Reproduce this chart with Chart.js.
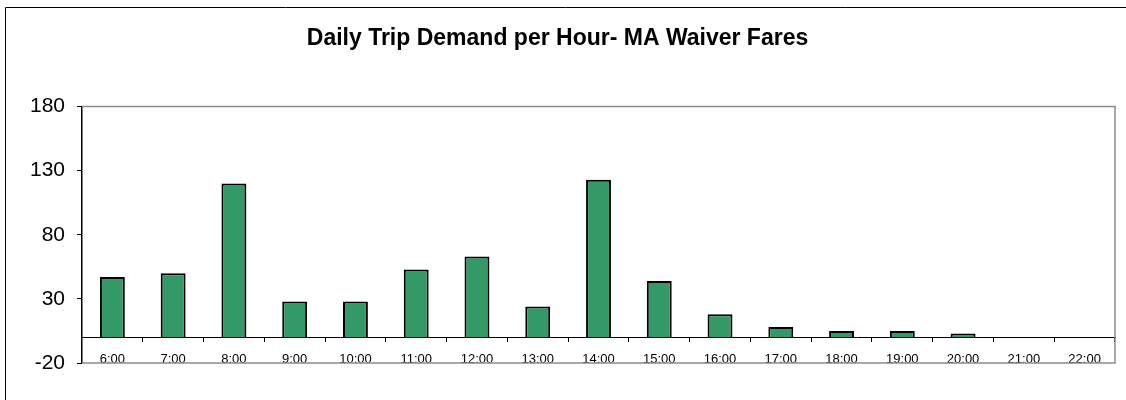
<!DOCTYPE html>
<html>
<head>
<meta charset="utf-8">
<script src="https://cdn.jsdelivr.net/npm/chart.js@4"></script>
<style>
  body { margin: 0; background: #fff; }
  #wrap { width: 1126px; height: 400px; }
</style>
</head>
<body>
<div id="wrap"><canvas id="tripChart" width="1126" height="400"></canvas></div>
<script>
// data
const hours = ['6:00', '7:00', '8:00', '9:00', '10:00', '11:00', '12:00', '13:00', '14:00',
               '15:00', '16:00', '17:00', '18:00', '19:00', '20:00', '21:00', '22:00'];
const trips = [47, 50, 120, 28, 28, 53, 63, 24, 123, 44, 18, 8, 5, 5, 3, 0, 0];
const yTickValues = [-20, 30, 80, 130, 180];
const chartTitle = 'Daily Trip Demand per Hour- MA Waiver Fares';

// gray frame round the plot area plus the outer chart border
const framePlugin = {
    id: 'frames',
    beforeDatasetsDraw(chart) {
        const { ctx, chartArea: a } = chart;
        ctx.save();
        ctx.strokeStyle = '#8c8c8c';
        ctx.lineWidth = 1.5;
        ctx.beginPath();
        ctx.moveTo(a.left, a.top);
        ctx.lineTo(a.right, a.top);
        ctx.lineTo(a.right, a.bottom);
        ctx.lineTo(a.left, a.bottom);
        ctx.stroke();
        ctx.restore();
    },
    afterDraw(chart) {
        const ctx = chart.ctx;
        ctx.save();
        ctx.strokeStyle = '#000';
        ctx.lineWidth = 1;
        ctx.beginPath();
        ctx.moveTo(5.5, chart.height);
        ctx.lineTo(5.5, 7.5);
        ctx.lineTo(chart.width, 7.5);
        ctx.stroke();
        ctx.restore();
    }
};

const ctx = document.getElementById('tripChart').getContext('2d');
const tripChart = new Chart(ctx, {
    type: 'bar',
    data: {
        labels: hours,
        datasets: [{
            label: 'Trips',
            data: trips,
            backgroundColor: '#339966',
            borderColor: '#000',
            borderWidth: 2,
            barPercentage: 0.41,
            categoryPercentage: 1
        }]
    },
    options: {
        responsive: false,
        animation: false,
        layout: { padding: { left: 0, right: 11, top: 0, bottom: 37 } },
        plugins: {
            legend: { display: false },
            tooltip: { enabled: false },
            title: {
                display: true,
                text: chartTitle,
                color: '#000',
                font: { family: 'Arial, "Liberation Sans"', size: 23, weight: 'bold' },
                padding: { top: 25, bottom: 54 }
            }
        },
        scales: {
            x: {
                position: { y: 0 },
                grid: {
                    offset: true,
                    drawOnChartArea: false,
                    tickLength: 4,
                    tickColor: '#000'
                },
                border: { color: '#000', width: 1 },
                ticks: {
                    color: '#000',
                    padding: 10,
                    maxRotation: 0,
                    autoSkip: false,
                    font: { family: 'Arial, "Liberation Sans"', size: 13 }
                }
            },
            y: {
                min: -20,
                max: 180,
                afterBuildTicks(scale) {
                    scale.ticks = yTickValues.map(v => ({ value: v }));
                },
                afterFit(scale) {
                    scale.width = 82;
                },
                grid: {
                    drawOnChartArea: false,
                    tickLength: 5,
                    tickColor: '#000'
                },
                border: { color: '#000', width: 1.5 },
                ticks: {
                    color: '#000',
                    padding: 12,
                    font: { family: 'Arial, "Liberation Sans"', size: 21 }
                }
            }
        }
    },
    plugins: [framePlugin]
});
</script>
</body>
</html>
